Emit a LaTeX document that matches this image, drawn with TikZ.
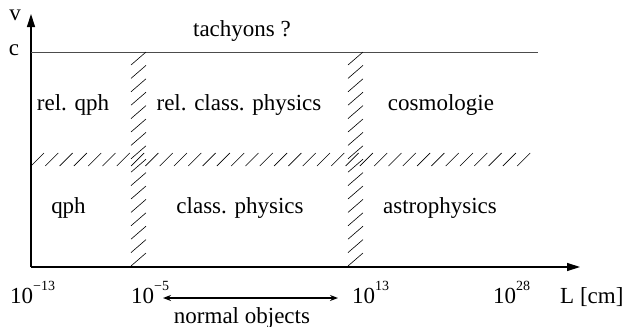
\documentclass[tikz,border=0pt]{standalone}
\usepackage{fontspec}
\setmainfont{Liberation Serif}
\usetikzlibrary{arrows.meta}
\newcommand{\supx}[1]{\raisebox{13pt}{\fontsize{14}{14}\selectfont #1}}
\begin{document}
\begin{tikzpicture}[x=1pt,y=-1pt,
  lbl/.style={inner sep=0pt,anchor=base,font=\fontsize{23}{26}\selectfont},
  tick/.style={lbl,anchor=base west},
  axisline/.style={line width=1.4pt,-{Triangle[length=13pt,width=8pt]}},
  hatch/.style={line width=0.6pt},
  clinestyle/.style={line width=0.9pt,black!70}]
\useasboundingbox (0,0) rectangle (625,327);
% axes
\coordinate (O) at (31,267);
\coordinate (xe) at (580,267);
\coordinate (ye) at (31,14);
\draw[axisline] (O) -- (xe);
\draw[axisline] (O) -- (ye);
% c line
\coordinate (c0) at (31,52);
\coordinate (c1) at (538,52);
\draw[clinestyle] (c0) -- (c1);
% vertical hatched bands
\foreach \xx in {131,348}{
  \foreach \k in {0,...,15}{
    \draw[hatch] (\xx,{52+13.4*\k+13}) -- ({\xx+15},{52+13.4*\k});
  }
}
% horizontal hatched band
\foreach \k in {0,...,34}{
  \draw[hatch] ({31+14.3*\k},166) -- ({31+14.3*\k+13},153);
}
% labels
\node[lbl] (v) at (15,20) {v};
\node[lbl] (c) at (14,55) {c};
\node[lbl] (tach) at (242,36.5) {tachyons ?};
\node[lbl] (relqph) at (73,110) {rel. qph};
\node[lbl] (relcl) at (239,110) {rel. class. physics};
\node[lbl] (cosmo) at (441,110) {cosmologie};
\node[lbl] (qph) at (68.5,213) {qph};
\node[lbl] (cl) at (240,213) {class. physics};
\node[lbl] (astro) at (440,213) {astrophysics};
\node[tick] (t1) at (10,303) {10\supx{−13}};
\node[tick] (t2) at (131,303) {10\supx{−5}};
\node[tick] (t3) at (352,303) {10\supx{13}};
\node[tick] (t4) at (493,303) {10\supx{28}};
\node[tick] (L) at (560,303) {L [cm]};
\node[lbl] (norm) at (242,323) {normal objects};
\coordinate (a0) at (163,298);
\coordinate (a1) at (338,298);
\draw[line width=1.3pt,{Stealth[length=8pt,width=6pt]}-{Stealth[length=8pt,width=6pt]}] (a0) -- (a1);
\end{tikzpicture}
\end{document}
